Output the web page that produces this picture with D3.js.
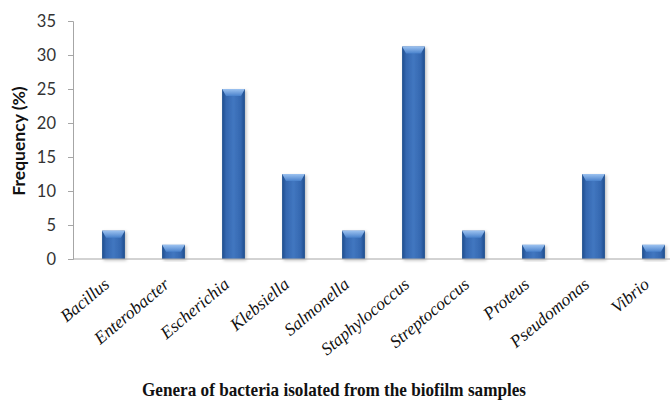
<!DOCTYPE html>
<html>
<head>
<meta charset="utf-8">
<script src="https://cdn.jsdelivr.net/npm/d3@7"></script>
<style>
  html, body { margin: 0; padding: 0; background: #fff; }
  svg { display: block; }
</style>
</head>
<body>
<svg id="chart" width="670" height="400"></svg>
<script>
// genera and their share of the isolates (n = 48)
const genera = ["Bacillus", "Enterobacter", "Escherichia", "Klebsiella", "Salmonella",
  "Staphylococcus", "Streptococcus", "Proteus", "Pseudomonas", "Vibrio"];
const frequency = [4.17, 2.08, 25, 12.5, 4.17, 31.25, 4.17, 2.08, 12.5, 2.08];
const yTicks = [0, 5, 10, 15, 20, 25, 30, 35];

const svg = d3.select("#chart");
const axisX = 73, baseY = 259, topY = 21;

const x = d3.scaleBand()
  .domain(genera)
  .range([83.5, 683.5])
  .paddingInner(0.62)
  .paddingOuter(0.31);

const y = d3.scaleLinear().domain([0, 35]).range([baseY, topY]);

// bar fill: darker edges, lighter middle
const defs = svg.append("defs");
const grad = defs.append("linearGradient").attr("id", "barGrad");
grad.append("stop").attr("offset", "0%").attr("stop-color", "#1d4c8c");
grad.append("stop").attr("offset", "18%").attr("stop-color", "#3468b0");
grad.append("stop").attr("offset", "50%").attr("stop-color", "#4176c0");
grad.append("stop").attr("offset", "82%").attr("stop-color", "#3468b0");
grad.append("stop").attr("offset", "100%").attr("stop-color", "#1d4c8c");

const capGrad = defs.append("linearGradient").attr("id", "capGrad")
  .attr("x1", 0).attr("x2", 0).attr("y1", 0).attr("y2", 1);
capGrad.append("stop").attr("offset", "0%").attr("stop-color", "#9cc2f0");
capGrad.append("stop").attr("offset", "100%").attr("stop-color", "#4a82cc");

const shadow = defs.append("filter").attr("id", "shadow")
  .attr("x", "-30%").attr("y", "-10%").attr("width", "160%").attr("height", "130%");
shadow.append("feDropShadow").attr("dx", 1.5).attr("dy", 1.5).attr("stdDeviation", 1.5)
  .attr("flood-color", "#000").attr("flood-opacity", 0.25);

// y axis
const yAxis = svg.append("g")
  .attr("transform", `translate(${axisX},0)`)
  .call(d3.axisLeft(y).tickValues(yTicks).tickSize(5).tickPadding(12));
yAxis.select(".domain").attr("stroke", "#a6a6a6");
yAxis.selectAll(".tick line").attr("stroke", "#a6a6a6");
yAxis.selectAll(".tick text")
  .attr("font-family", "Lato, 'Open Sans', sans-serif")
  .attr("font-size", 16.5)
  .attr("fill", "#333");

// bars
const bars = svg.append("g")
  .selectAll("g")
  .data(genera)
  .join("g")
  .attr("filter", "url(#shadow)");

bars.append("rect")
  .attr("x", d => x(d))
  .attr("y", (d, i) => y(frequency[i]))
  .attr("width", x.bandwidth())
  .attr("height", (d, i) => baseY - y(frequency[i]))
  .attr("fill", "url(#barGrad)");

// bevelled top cap
bars.append("path")
  .attr("fill", "url(#capGrad)")
  .attr("d", (d, i) => {
    const x0 = x(d), w = x.bandwidth(), t = y(frequency[i]);
    const h = Math.min(7, (baseY - t) / 2);
    return `M${x0},${t}L${x0 + w},${t}L${x0 + w - 4},${t + h}L${x0 + 4},${t + h}Z`;
  });

// x baseline
svg.append("line")
  .attr("x1", axisX).attr("x2", 670)
  .attr("y1", baseY).attr("y2", baseY)
  .attr("stroke", "#a6a6a6");

// category labels
svg.append("g")
  .selectAll("text")
  .data(genera)
  .join("text")
  .attr("transform", d => `translate(${x(d) + x.bandwidth() / 2 - 3},${baseY + 27}) rotate(-40)`)
  .attr("text-anchor", "end")
  .attr("font-family", "'Liberation Serif', 'Times New Roman', serif")
  .attr("font-style", "italic")
  .attr("font-size", 17.5)
  .attr("fill", "#111")
  .text(d => d);

// axis titles
svg.append("text")
  .attr("transform", "translate(25,141) rotate(-90)")
  .attr("text-anchor", "middle")
  .attr("font-family", "Lato, 'Open Sans', sans-serif")
  .attr("font-weight", "bold")
  .attr("font-size", 17.5)
  .attr("fill", "#111")
  .text("Frequency (%)");

svg.append("text")
  .attr("x", 142).attr("y", 396)
  .attr("textLength", 384)
  .attr("lengthAdjust", "spacingAndGlyphs")
  .attr("font-family", "'Liberation Serif', 'Times New Roman', serif")
  .attr("font-weight", "bold")
  .attr("font-size", 19)
  .attr("fill", "#111")
  .text("Genera of bacteria isolated from the biofilm samples");
</script>
</body>
</html>
